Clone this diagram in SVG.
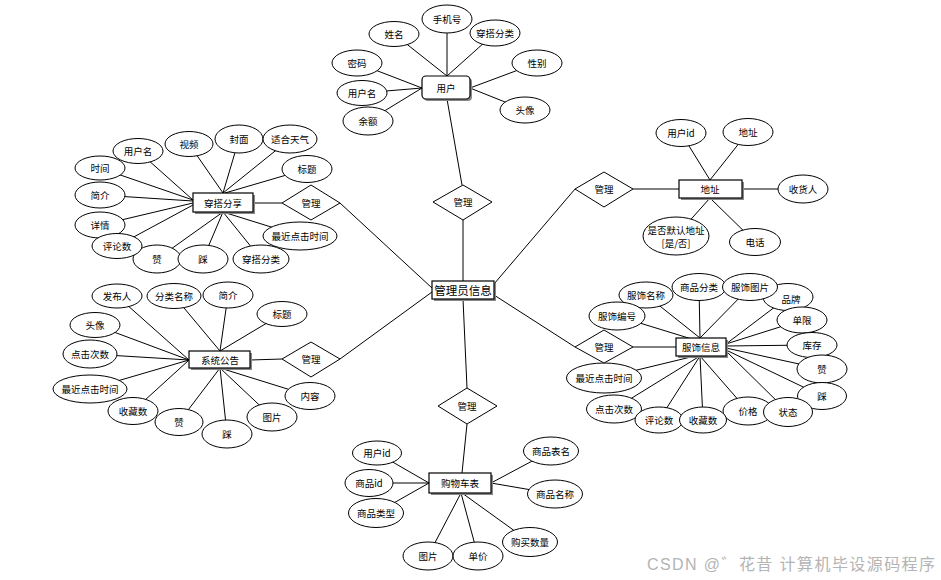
<svg xmlns="http://www.w3.org/2000/svg" width="941" height="580" viewBox="0 0 941 580">
<style>
.c line{stroke:#000;stroke-width:1}
ellipse{fill:#fff;stroke:#000;stroke-width:1}
.d{fill:#fff;stroke:#000;stroke-width:1}
.r{fill:#fff;stroke:#000;stroke-width:1.2}
.sh{fill:#888;stroke:none}
text{font-family:"Noto Sans CJK SC","Noto Sans",sans-serif;font-size:9.5px;fill:#000;text-anchor:middle;dominant-baseline:central}
.big{font-size:11.5px}
.wm{font-size:16px;fill:#b4b4b4;text-anchor:start;font-family:"Liberation Sans","Noto Sans CJK SC",sans-serif}
</style>
<rect width="941" height="580" fill="#fff"/>
<g class="c" id="connectors">
<!-- user -->
<line x1="447" y1="76" x2="447" y2="19"/>
<line x1="447" y1="76" x2="394" y2="34"/>
<line x1="447" y1="76" x2="495" y2="33"/>
<line x1="422" y1="88" x2="357" y2="63"/>
<line x1="422" y1="88" x2="362" y2="93"/>
<line x1="422" y1="88" x2="368" y2="121"/>
<line x1="470" y1="88" x2="537" y2="63"/>
<line x1="470" y1="88" x2="525" y2="110"/>
<line x1="447" y1="99" x2="462" y2="185"/>
<line x1="463" y1="220" x2="463" y2="281"/>
<!-- 穿搭分享 -->
<line x1="193" y1="200" x2="138" y2="151"/>
<line x1="223" y1="193" x2="189" y2="144"/>
<line x1="223" y1="193" x2="239" y2="139"/>
<line x1="223" y1="193" x2="290" y2="139"/>
<line x1="225" y1="193" x2="307" y2="169"/>
<line x1="193" y1="200" x2="100" y2="168"/>
<line x1="193" y1="201" x2="100" y2="195"/>
<line x1="193" y1="203" x2="100" y2="225"/>
<line x1="193" y1="205" x2="117" y2="246"/>
<line x1="223" y1="212" x2="157" y2="259"/>
<line x1="223" y1="212" x2="203" y2="259"/>
<line x1="223" y1="212" x2="261" y2="259"/>
<line x1="223" y1="212" x2="300" y2="236"/>
<line x1="253" y1="203" x2="282" y2="203"/>
<line x1="340" y1="203" x2="432" y2="288"/>
<!-- 系统公告 -->
<line x1="189" y1="360" x2="117" y2="296"/>
<line x1="189" y1="360" x2="95" y2="325"/>
<line x1="189" y1="360" x2="90" y2="354"/>
<line x1="189" y1="360" x2="90" y2="389"/>
<line x1="189" y1="360" x2="133" y2="411"/>
<line x1="220" y1="351" x2="174" y2="296"/>
<line x1="220" y1="351" x2="228" y2="295"/>
<line x1="220" y1="351" x2="282" y2="314"/>
<line x1="220" y1="368" x2="179" y2="422"/>
<line x1="220" y1="368" x2="227" y2="434"/>
<line x1="220" y1="368" x2="272" y2="417"/>
<line x1="220" y1="368" x2="310" y2="396"/>
<line x1="250" y1="360" x2="282" y2="359"/>
<line x1="340" y1="359" x2="432" y2="292"/>
<!-- 地址 -->
<line x1="710" y1="180" x2="681" y2="133"/>
<line x1="710" y1="180" x2="748" y2="132"/>
<line x1="742" y1="189" x2="803" y2="189"/>
<line x1="710" y1="198" x2="676" y2="236"/>
<line x1="710" y1="198" x2="755" y2="242"/>
<line x1="633" y1="189" x2="679" y2="189"/>
<line x1="575" y1="189" x2="494" y2="284"/>
<!-- 服饰信息 -->
<line x1="700" y1="338" x2="646" y2="295"/>
<line x1="700" y1="338" x2="699" y2="287"/>
<line x1="700" y1="338" x2="750" y2="287"/>
<line x1="695" y1="340" x2="617" y2="316"/>
<line x1="726" y1="344" x2="788" y2="297"/>
<line x1="726" y1="344" x2="802" y2="320"/>
<line x1="726" y1="346" x2="812" y2="345"/>
<line x1="726" y1="348" x2="822" y2="369"/>
<line x1="726" y1="350" x2="822" y2="396"/>
<line x1="726" y1="351" x2="788" y2="412"/>
<line x1="700" y1="356" x2="748" y2="411"/>
<line x1="700" y1="356" x2="703" y2="420"/>
<line x1="700" y1="356" x2="659" y2="420"/>
<line x1="700" y1="356" x2="614" y2="409"/>
<line x1="695" y1="356" x2="604" y2="378"/>
<line x1="633" y1="347" x2="676" y2="347"/>
<line x1="575" y1="347" x2="494" y2="295"/>
<!-- 购物车表 -->
<line x1="463" y1="299" x2="467" y2="388"/>
<line x1="467" y1="424" x2="462" y2="473"/>
<line x1="429" y1="483" x2="377" y2="453"/>
<line x1="429" y1="483" x2="369" y2="483"/>
<line x1="429" y1="483" x2="376" y2="513"/>
<line x1="491" y1="483" x2="551" y2="451"/>
<line x1="491" y1="483" x2="555" y2="494"/>
<line x1="461" y1="493" x2="428" y2="556"/>
<line x1="461" y1="493" x2="478" y2="556"/>
<line x1="462" y1="493" x2="530" y2="542"/>
</g>

<g id="center">
<rect class="sh" x="434" y="283" width="62" height="18"/>
<rect class="r" x="432" y="281" width="62" height="18"/>
<text class="big" x="463" y="290">管理员信息</text>
</g>

<g id="user">
<rect class="sh" x="424" y="78" width="48" height="23" rx="4"/>
<rect class="r" x="422" y="76" width="48" height="23" rx="4"/>
<text x="446" y="88">用户</text>
</g>
<g id="user-attrs">
<g id="u1"><ellipse cx="447" cy="19" rx="25" ry="14"/><text x="447" y="19">手机号</text></g>
<g id="u2"><ellipse cx="394" cy="34" rx="25" ry="12.5"/><text x="394" y="34">姓名</text></g>
<g id="u3"><ellipse cx="495" cy="33" rx="25" ry="13"/><text x="495" y="33">穿搭分类</text></g>
<g id="u4"><ellipse cx="357" cy="63" rx="25" ry="13"/><text x="357" y="63">密码</text></g>
<g id="u5"><ellipse cx="537" cy="63" rx="25" ry="13"/><text x="537" y="63">性别</text></g>
<g id="u6"><ellipse cx="362" cy="93" rx="25" ry="12.5"/><text x="362" y="93">用户名</text></g>
<g id="u7"><ellipse cx="368" cy="121" rx="25" ry="14"/><text x="368" y="121">余额</text></g>
<g id="u8"><ellipse cx="525" cy="110" rx="25" ry="13"/><text x="525" y="110">头像</text></g>
</g>
<g id="rel-user"><polygon class="d" points="433,202 463,185 492,202 463,220"/><text x="463" y="202">管理</text></g>

<g id="share">
<rect class="sh" x="195" y="195" width="60" height="19"/>
<rect class="r" x="193" y="193" width="60" height="19"/>
<text x="223" y="203">穿搭分享</text>
</g>
<g id="share-attrs">
<g><ellipse cx="138" cy="151" rx="25" ry="12.5"/><text x="138" y="151">用户名</text></g>
<g><ellipse cx="189" cy="144" rx="24" ry="12.5"/><text x="189" y="144">视频</text></g>
<g><ellipse cx="239" cy="139" rx="24" ry="14"/><text x="239" y="139">封面</text></g>
<g><ellipse cx="290" cy="139" rx="27" ry="14"/><text x="290" y="139">适合天气</text></g>
<g><ellipse cx="100" cy="168" rx="25" ry="12"/><text x="100" y="168">时间</text></g>
<g><ellipse cx="307" cy="169" rx="25" ry="13.5"/><text x="307" y="169">标题</text></g>
<g><ellipse cx="100" cy="195" rx="25" ry="13"/><text x="100" y="195">简介</text></g>
<g><ellipse cx="100" cy="225" rx="25" ry="13"/><text x="100" y="225">详情</text></g>
<g><ellipse cx="300" cy="236" rx="37" ry="14"/><text x="300" y="236">最近点击时间</text></g>
<g><ellipse cx="157" cy="259" rx="24" ry="14"/><text x="157" y="259">赞</text></g>
<g><ellipse cx="117" cy="246" rx="25" ry="12.5"/><text x="117" y="246">评论数</text></g>
<g><ellipse cx="203" cy="259" rx="25" ry="14"/><text x="203" y="259">踩</text></g>
<g><ellipse cx="261" cy="259" rx="28" ry="14"/><text x="261" y="259">穿搭分类</text></g>
</g>
<g id="rel-share"><polygon class="d" points="282,203 311,185 340,203 311,220"/><text x="311" y="203">管理</text></g>

<g id="notice">
<rect class="sh" x="191" y="353" width="61" height="17"/>
<rect class="r" x="189" y="351" width="61" height="17"/>
<text x="220" y="360">系统公告</text>
</g>
<g id="notice-attrs">
<g><ellipse cx="117" cy="296" rx="25" ry="12"/><text x="117" y="296">发布人</text></g>
<g><ellipse cx="174" cy="296" rx="27" ry="12.5"/><text x="174" y="296">分类名称</text></g>
<g><ellipse cx="228" cy="295" rx="25" ry="13"/><text x="228" y="295">简介</text></g>
<g><ellipse cx="282" cy="314" rx="25" ry="12.5"/><text x="282" y="314">标题</text></g>
<g><ellipse cx="95" cy="325" rx="25" ry="12.5"/><text x="95" y="325">头像</text></g>
<g><ellipse cx="90" cy="354" rx="27" ry="14"/><text x="90" y="354">点击次数</text></g>
<g><ellipse cx="90" cy="389" rx="37" ry="14"/><text x="90" y="389">最近点击时间</text></g>
<g><ellipse cx="310" cy="396" rx="25" ry="13.5"/><text x="310" y="396">内容</text></g>
<g><ellipse cx="133" cy="411" rx="25" ry="13.5"/><text x="133" y="411">收藏数</text></g>
<g><ellipse cx="179" cy="422" rx="24" ry="13.5"/><text x="179" y="422">赞</text></g>
<g><ellipse cx="272" cy="417" rx="25" ry="14"/><text x="272" y="417">图片</text></g>
<g><ellipse cx="227" cy="434" rx="25" ry="14"/><text x="227" y="434">踩</text></g>
</g>
<g id="rel-notice"><polygon class="d" points="282,359 311,342 340,359 311,377"/><text x="311" y="359">管理</text></g>

<g id="address">
<rect class="sh" x="681" y="182" width="63" height="18"/>
<rect class="r" x="679" y="180" width="63" height="18"/>
<text x="710" y="189">地址</text>
</g>
<g id="address-attrs">
<g><ellipse cx="681" cy="133" rx="25" ry="13.5"/><text x="681" y="133">用户id</text></g>
<g><ellipse cx="748" cy="132" rx="25" ry="13.5"/><text x="748" y="132">地址</text></g>
<g><ellipse cx="803" cy="189" rx="25" ry="14"/><text x="803" y="189">收货人</text></g>
<g><ellipse cx="676" cy="236" rx="33" ry="19"/><text x="676" y="230">是否默认地址</text><text x="676" y="243">[是/否]</text></g>
<g><ellipse cx="755" cy="242" rx="25.5" ry="13.5"/><text x="755" y="242">电话</text></g>
</g>
<g id="rel-address"><polygon class="d" points="575,189 604,172 633,189 604,207"/><text x="604" y="189">管理</text></g>

<g id="clothing">
<rect class="sh" x="678" y="340" width="50" height="18"/>
<rect class="r" x="676" y="338" width="50" height="18"/>
<text x="701" y="347">服饰信息</text>
</g>
<g id="clothing-attrs">
<g><ellipse cx="788" cy="297" rx="25" ry="13.5"/><text x="791" y="299">品牌</text></g>
<g><ellipse cx="646" cy="295" rx="27" ry="13"/><text x="646" y="295">服饰名称</text></g>
<g><ellipse cx="699" cy="287" rx="27" ry="13.5"/><text x="699" y="287">商品分类</text></g>
<g><ellipse cx="750" cy="287" rx="27.5" ry="13.5"/><text x="750" y="287">服饰图片</text></g>
<g><ellipse cx="617" cy="316" rx="28" ry="14"/><text x="617" y="316">服饰编号</text></g>
<g><ellipse cx="802" cy="320" rx="25" ry="13"/><text x="802" y="320">单限</text></g>
<g><ellipse cx="812" cy="345" rx="25" ry="12.5"/><text x="812" y="345">库存</text></g>
<g><ellipse cx="822" cy="369" rx="25" ry="14"/><text x="822" y="369">赞</text></g>
<g><ellipse cx="604" cy="378" rx="37.5" ry="15"/><text x="604" y="378">最近点击时间</text></g>
<g><ellipse cx="822" cy="396" rx="24.5" ry="13.5"/><text x="822" y="396">踩</text></g>
<g><ellipse cx="748" cy="411" rx="25" ry="14"/><text x="748" y="411">价格</text></g>
<g><ellipse cx="788" cy="412" rx="24.5" ry="14.5"/><text x="788" y="412">状态</text></g>
<g><ellipse cx="614" cy="409" rx="27.5" ry="14"/><text x="614" y="409">点击次数</text></g>
<g><ellipse cx="659" cy="420" rx="24" ry="13"/><text x="659" y="420">评论数</text></g>
<g><ellipse cx="703" cy="420" rx="23.5" ry="13"/><text x="703" y="420">收藏数</text></g>
</g>
<g id="rel-clothing"><polygon class="d" points="575,347 604,330 633,347 604,363"/><text x="604" y="347">管理</text></g>

<g id="rel-cart"><polygon class="d" points="438,406 467,388 497,406 467,424"/><text x="467" y="406">管理</text></g>
<g id="cart">
<rect class="sh" x="431" y="475" width="62" height="20"/>
<rect class="r" x="429" y="473" width="62" height="20"/>
<text x="460" y="483">购物车表</text>
</g>
<g id="cart-attrs">
<g><ellipse cx="377" cy="453" rx="24.5" ry="12"/><text x="377" y="453">用户id</text></g>
<g><ellipse cx="369" cy="483" rx="24" ry="13.5"/><text x="369" y="483">商品id</text></g>
<g><ellipse cx="376" cy="513" rx="27.5" ry="14.5"/><text x="376" y="513">商品类型</text></g>
<g><ellipse cx="551" cy="451" rx="27.5" ry="14"/><text x="551" y="451">商品表名</text></g>
<g><ellipse cx="555" cy="494" rx="27.5" ry="14"/><text x="555" y="494">商品名称</text></g>
<g><ellipse cx="530" cy="542" rx="27.5" ry="14.5"/><text x="530" y="542">购买数量</text></g>
<g><ellipse cx="428" cy="556" rx="25" ry="14"/><text x="428" y="556">图片</text></g>
<g><ellipse cx="478" cy="556" rx="25" ry="14"/><text x="478" y="556">单价</text></g>
</g>

<text class="wm" x="647" y="564" textLength="288" lengthAdjust="spacing">CSDN @゛花昔  计算机毕设源码程序</text>
</svg>
